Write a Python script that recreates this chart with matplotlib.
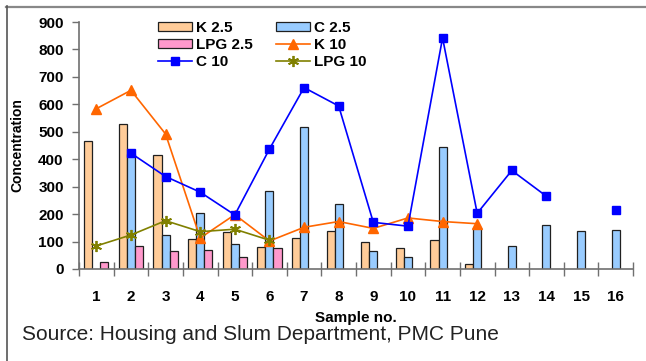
import numpy as np
import matplotlib
matplotlib.use("Agg")
import matplotlib.pyplot as plt
from matplotlib.lines import Line2D

nan = np.nan
samples = list(range(1, 17))
tick_labels = [str(s) for s in samples]

k25 = [465, 530, 415, 110, 133, 80, 114, 137, 97, 75, 106, 17, nan, nan, nan, nan]
c25 = [nan, 420, 124, 203, 92, 284, 519, 238, 67, 43, 443, 151, 83, 159, 137, 142]
lpg25 = [27, 84, 67, 71, 44, 75, nan, nan, nan, nan, nan, nan, nan, nan, nan, nan]
k10 = [584, 651, 492, 113, 198, 102, 152, 173, 148, 186, 173, 165, nan, nan, nan, nan]
c10 = [nan, 422, 337, 280, 197, 437, 661, 594, 170, 156, 842, 203, 359, 265, nan, 214]
lpg10 = [84, 124, 176, 136, 145, 105, nan, nan, nan, nan, nan, nan, nan, nan, nan, nan]

plt.rcParams['font.family'] = ['Liberation Sans', 'DejaVu Sans']

fig = plt.figure(figsize=(6.46, 3.61), dpi=100)
ax = fig.add_axes([79/646, 1-269/361, (633-79)/646, (269-22)/361])

x = np.array(samples, dtype=float)
w = 0.234
ec = '#202020'
b1 = ax.bar(x - w, np.array(k25, float), width=w, color='#FFCC99', edgecolor=ec, linewidth=0.9, label='K 2.5')
b2 = ax.bar(x, np.array(c25, float), width=w, color='#99CCFF', edgecolor=ec, linewidth=0.9, label='C 2.5')
b3 = ax.bar(x + w, np.array(lpg25, float), width=w, color='#FF99CC', edgecolor=ec, linewidth=0.9, label='LPG 2.5')

l1, = ax.plot(x, k10, color='#FF6600', lw=1.2, marker='^', markersize=7.5, label='K 10')
l2, = ax.plot(x, c10, color='#0000FF', lw=1.2, marker='s', markersize=5.5, label='C 10')
l3, = ax.plot(x, lpg10, color='#808000', lw=1.2, marker=(6, 2, 0), markersize=8,
              markeredgewidth=1.3, label='LPG 10')

ax.set_xlim(0.5, 16.5)
ax.set_ylim(0, 900)
ax.set_yticks(range(0, 901, 100))
ax.set_xticks(np.arange(0.5, 17, 1.0))
ax.set_xticklabels([])
ax.set_xticks(x, minor=True)
ax.set_xticklabels(tick_labels, minor=True)
ax.tick_params(axis='x', which='major', direction='inout', length=10, width=1, color='#707070')
ax.tick_params(axis='x', which='minor', length=0, pad=15, labelsize=11)
ax.tick_params(axis='y', direction='out', length=5, width=1, color='#707070', pad=6, labelsize=11)
for lab in ax.get_xticklabels(minor=True) + ax.get_yticklabels():
    lab.set_fontweight('bold')

for s in ['top', 'right']:
    ax.spines[s].set_visible(False)
for s in ['left', 'bottom']:
    ax.spines[s].set_color('#707070')
    ax.spines[s].set_linewidth(1.2)

ax.set_ylabel('Concentration', fontsize=10, fontweight='bold')
ax.yaxis.set_label_coords((24-79)/554, 0.5)
ax.set_xlabel('Sample no.', fontsize=11, fontweight='bold')
ax.xaxis.set_label_coords(0.5, -(311-269)/247)

handles = [b1, b3, l2, b2, l1, l3]
labels = [h.get_label() for h in handles]
leg = ax.legend(handles, labels, ncol=2, loc='upper left',
                bbox_to_anchor=((152-79)/554, 1 + 7/247),
                frameon=False, prop={'weight': 'bold', 'size': 11},
                handlelength=2.2, handleheight=0.55, handletextpad=0.3,
                columnspacing=1.5, labelspacing=0.18, borderaxespad=0)

fig.text(22/646, 1-335/361, 'Source: Housing and Slum Department, PMC Pune',
         fontsize=15, ha='left', va='center', color='#222222')

fig.add_artist(Line2D([6/646, 1.0], [1-6.5/361, 1-6.5/361], color='#888888', lw=1.6,
                      transform=fig.transFigure))
fig.add_artist(Line2D([6.5/646, 6.5/646], [0, 1-6/361], color='#555555', lw=1.2,
                      transform=fig.transFigure))

fig.savefig('out.png', dpi=100)
